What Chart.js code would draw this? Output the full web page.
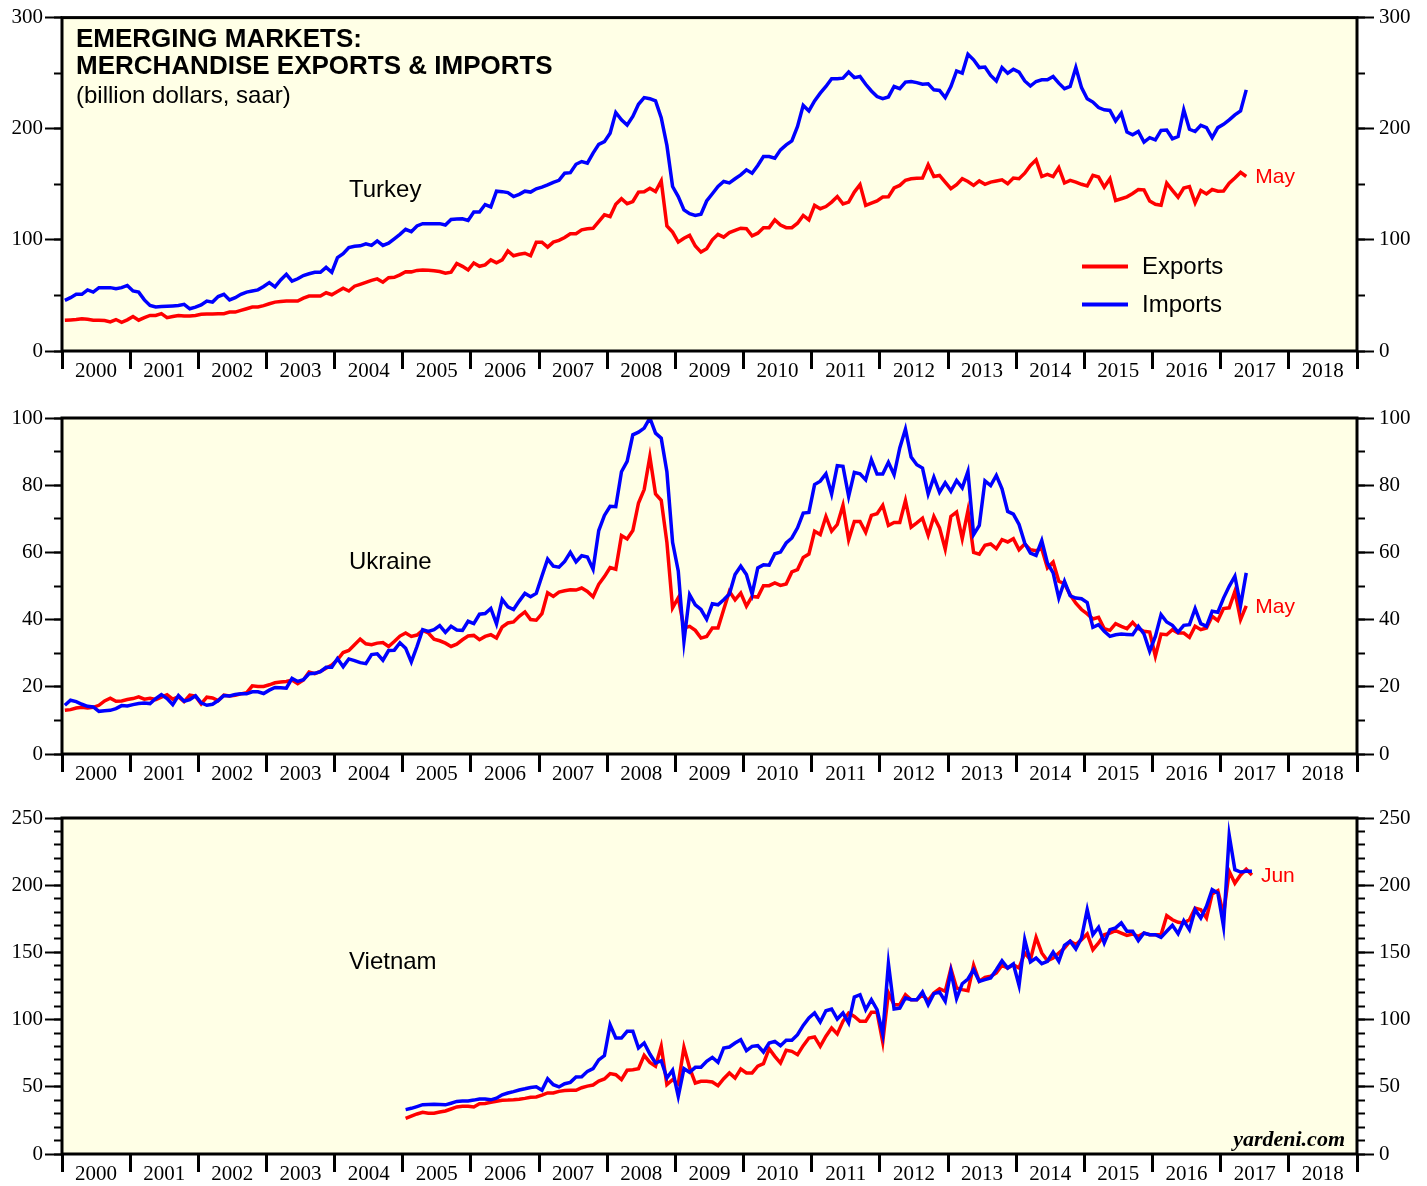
<!DOCTYPE html>
<html lang="en">
<head>
<meta charset="UTF-8">
<title>Emerging Markets: Merchandise Exports &amp; Imports</title>
<script src="https://cdn.jsdelivr.net/npm/chart.js"></script>
<style>
  body { margin: 0; background: #fff; }
  .panel { position: absolute; left: 0; width: 1427px; }
</style>
</head>
<body>
<div class="panel" style="top:0;height:395px"><canvas id="turkey"></canvas></div>
<div class="panel" style="top:400px;height:395px"><canvas id="ukraine"></canvas></div>
<div class="panel" style="top:800px;height:386px"><canvas id="vietnam"></canvas></div>
<script>
// monthly data, billion dollars saar
const yearLabels = ['2000', '2001', '2002', '2003', '2004', '2005', '2006', '2007', '2008', '2009',
  '2010', '2011', '2012', '2013', '2014', '2015', '2016', '2017', '2018'];

// Turkey, Jan 2000 - May 2017
const turkeyExports = [
  27.7, 28, 28.3, 29, 28.5, 27.7, 27.7, 27.5, 26.2, 28.3, 25.8, 28,
  31, 27.7, 30, 32, 32, 33.6, 30, 31, 32, 31.5, 31.5, 32,
  33, 33.3, 33.4, 33.5, 33.6, 35, 35, 36.5, 38, 39.6, 39.6, 40.8,
  42.5, 44, 44.5, 44.9, 44.9, 44.9, 47.5, 49.4, 49.4, 49.5, 52.4, 50.6,
  53.5, 56.5, 54, 58.3, 60, 61.8, 63.5, 64.9, 61.9, 66, 66.3, 68.5,
  71.4, 71.2, 72.5, 72.9, 72.6, 72.3, 71.5, 70, 71, 78.8, 76.2, 72.9,
  79.2, 76.2, 77.5, 82, 79.3, 82, 90, 85.7, 87, 88, 85.7, 97.9,
  97.9, 93.5, 98, 99.5, 102.1, 105.5, 105.5, 109, 110, 110.4, 116.5, 122.5,
  121, 132, 137, 132.5, 134.5, 143, 143.3, 146.5, 143.5, 153, 112.5, 107,
  98, 101.5, 104, 94.5, 89, 92, 100, 105, 102.5, 106.5, 108.5, 110.5,
  110, 103.6, 106, 111, 111, 118, 113.4, 111, 111, 115, 122, 118,
  131, 128, 130, 134, 139, 132.4, 134, 143, 149.7, 131, 133, 135,
  138.5, 138.7, 146.7, 149, 153.6, 155, 155.4, 155.6, 167.6, 157, 158, 152,
  146, 149.7, 155, 152.5, 149, 153, 150, 152, 153, 154, 150.5, 155.6,
  155, 160, 167, 172, 157, 159, 157, 165, 151.2, 153.6, 152, 150,
  148.5, 158, 156.5, 147.5, 155, 135.4, 137, 138.7, 141.7, 145.3, 145, 135,
  132, 131.2, 151, 144.6, 138.4, 146.7, 148, 133.3, 144.4, 141.3, 145.3, 143.8,
  144, 151, 155.6, 160.7, 157
];
const turkeyImports = [
  45.5, 48, 51, 51, 55, 53, 57, 57, 57, 56, 57, 59,
  54, 53, 46, 41, 39.6, 40, 40.3, 40.6, 41, 42, 38, 39.5,
  41.5, 45, 44, 49, 51, 46, 48, 51, 53, 54, 55, 58,
  61.5, 57.7, 64, 69, 62.8, 65, 67.9, 69.5, 70.8, 70.8, 75.3, 70.8,
  84, 87.5, 93, 94.3, 94.6, 96.5, 95, 99, 95, 97, 101, 105,
  109.5, 107.4, 112.5, 114.6, 114.6, 114.6, 114.6, 113.4, 118.4, 118.8, 119, 117.5,
  125, 125, 131.8, 129.7, 143.8, 143.4, 142.5, 139, 141, 143.8, 143, 146,
  147.5, 149.5, 151.8, 153.6, 160, 160.5, 168, 170.5, 169, 178, 186, 188.4,
  196, 214.6, 208, 203.3, 211, 222, 228, 227, 225, 210, 185, 148,
  139, 127, 123.5, 122, 123, 135, 141.5, 148, 152.5, 151.3, 155, 158.5,
  163, 160, 167, 175, 175, 173.5, 181, 185.5, 189, 202, 221, 216,
  225, 232, 238, 245, 245, 245.5, 251, 246, 247, 240, 234, 229,
  227, 228.6, 238, 236, 242, 242.5, 241.5, 240, 240.5, 235, 234.5, 228,
  238, 252, 250, 267, 262, 255, 255.5, 248, 243, 255, 250, 253.5,
  251, 243, 238.4, 242.5, 244, 244, 247, 241, 236, 238, 255, 237,
  227, 224, 219, 217, 216.5, 207, 214, 197, 194.6, 197.5, 188, 192,
  190, 198.5, 198.8, 191, 193, 217, 199.5, 197.5, 203, 201, 192, 201,
  204, 208, 212.5, 216, 235
];

// Ukraine, Jan 2000 - May 2017
const ukraineExports = [
  13, 13.2, 13.7, 13.9, 13.7, 13.9, 14.5, 15.8, 16.6, 15.7, 15.8, 16.2,
  16.5, 17, 16.3, 16.6, 16.2, 16.9, 17.6, 16.3, 17, 15.6, 17.5, 17.2,
  14.9, 16.9, 16.7, 15.9, 17.5, 17.3, 17.5, 17.9, 18.2, 20.3, 20.1, 20.1,
  20.6, 21.2, 21.4, 21.6, 22, 20.9, 22, 24.4, 23.9, 24.6, 25.5, 26.5,
  28, 30.2, 30.8, 32.5, 34.2, 32.8, 32.5, 33, 33.2, 32, 33.5, 35.1,
  36, 35, 35.4, 36.8, 36, 34.2, 33.7, 33, 32, 32.7, 34, 35.1,
  35.3, 34, 35, 35.5, 34.5, 37.8, 39, 39.3, 41, 42.3, 40, 39.8,
  41.8, 48, 46.9, 48.2, 48.6, 48.9, 48.8, 49.4, 48.4, 46.8, 50.5, 52.8,
  55.5, 55, 65, 64, 66.5, 74.7, 78.7, 88.5, 77.4, 75.5, 63, 43.5,
  46.5, 37.5, 38, 36.8, 34.5, 35, 37.5, 37.5, 43, 48.4, 45.9, 47.9,
  44, 46.9, 46.7, 50.1, 50.1, 50.9, 50.2, 50.6, 54.2, 54.9, 58.5, 59.5,
  66.3, 65.3, 70.7, 66.3, 68.3, 74, 63.8, 69.2, 69.2, 66, 71, 71.5,
  74, 68, 68.9, 68.9, 75.4, 67.5, 68.8, 70.2, 65.1, 70.7, 67.3, 61,
  70.7, 72, 64.1, 72.4, 60, 59.5, 62.1, 62.5, 61.1, 63.8, 63.1, 64.1,
  60.8, 62.5, 60.8, 60.5, 61.1, 55.4, 57.1, 51.4, 50.7, 47.4, 44.9, 43,
  41.7, 40.2, 40.7, 37.3, 36.8, 38.8, 38, 37.3, 39.2, 37.3, 36.5, 36.3,
  29.1, 35.7, 35.5, 37, 36, 36, 34.7, 38, 37, 37.5, 41, 39.7,
  43.3, 43.5, 48.4, 40, 44.1
];
const ukraineImports = [
  14.5, 16, 15.6, 14.8, 14.2, 14, 12.7, 12.9, 13, 13.5, 14.4, 14.3,
  14.7, 15, 15.2, 15, 16.5, 17.7, 16.5, 14.7, 17.4, 15.7, 16.2, 17.3,
  15.2, 14.5, 14.8, 15.9, 17.4, 17.3, 17.7, 17.9, 17.9, 18.5, 18.5, 18,
  19, 19.8, 19.7, 19.6, 22.5, 21.6, 22.1, 23.9, 24, 24.5, 25.8, 25.8,
  28.4, 26, 28.3, 27.8, 27.2, 26.9, 29.6, 29.8, 27.9, 30.8, 30.9, 33.1,
  31.5, 27.4, 32, 37, 36.5, 37, 38.2, 36.2, 38, 36.9, 36.8, 39.5,
  38.8, 41.6, 41.8, 43.3, 38.7, 46, 43.8, 43, 45.5, 47.8, 46.8, 47.8,
  53, 58, 55.9, 55.6, 57.3, 60, 57.2, 59, 58.6, 55, 66.5, 71,
  73.7, 73.6, 84, 87.1, 95, 95.8, 97, 100, 95.5, 94, 84, 63,
  54.5, 33.5, 47.4, 44.4, 43, 40.1, 44.7, 44.4, 45.9, 47.6, 53.4, 55.9,
  53.4, 47.6, 55.4, 56.3, 56.2, 59.6, 60.1, 62.8, 64.3, 67.3, 71.7, 71.9,
  80.2, 81.2, 83.4, 77.4, 85.8, 85.6, 76.7, 83.8, 83.4, 81.6, 87.6, 83.3,
  83.3, 86.8, 83.1, 91.1, 96.7, 88.4, 86.1, 85.1, 77.4, 82.4, 77.9, 80.7,
  78.2, 81.4, 79.2, 84.1, 65.3, 68, 81.3, 79.9, 82.9, 78.9, 72.2, 71.4,
  68.3, 62.8, 59.8, 59.1, 63.5, 56.8, 53.9, 46.4, 51.4, 47.1, 46.4, 46.2,
  45.1, 37.7, 38.5, 36.5, 35, 35.5, 35.7, 35.6, 35.5, 38, 35.7, 30.6,
  35, 41.5, 39.3, 38.3, 36.3, 38.3, 38.5, 43.3, 38.8, 38, 42.5, 42.2,
  46.4, 49.9, 52.9, 44.2, 53.9
];

// Vietnam, Jan 2005 - Jun 2017
const vietnamExports = [
  26.5, 28.2, 29.8, 31, 30.4, 30.4, 31.2, 32, 33.5, 35, 35.5, 35.5,
  35, 37.4, 37.6, 38.5, 39.3, 40, 40.1, 40.3, 40.8, 41.4, 42.2, 42.4,
  43.8, 45.4, 45.4, 46.6, 47.2, 47.4, 47.4, 49.3, 50.5, 51.3, 54.2, 55.8,
  59.8, 59, 55.3, 62.3, 62.7, 63.5, 73.4, 68.2, 65.3, 80.1, 51.6, 55.3,
  52, 79.4, 64, 52.8, 54.1, 54.1, 53.6, 50.8, 56, 60.3, 56.5, 63.2,
  60.3, 60.3, 65.3, 67.2, 78.4, 72.7, 67.7, 77.2, 76.4, 73.9, 80.6, 86.3,
  87.1, 80.1, 87.6, 93.8, 89.3, 98.7, 104.9, 102.4, 98.7, 98.7, 105.4, 105.4,
  83.3, 120, 111.1, 111.1, 118.5, 114.8, 114.8, 118.5, 114.1, 119.8, 123, 121,
  137.9, 123.5, 122.3, 121.5, 140.4, 128.5, 131.4, 132.2, 134.7, 140.4, 138.4, 140.8,
  138.4, 149.6, 144.6, 161.2, 149.6, 143.8, 145.8, 149.6, 153.3, 158.3, 155.8, 159.5,
  163.7, 152, 157, 163.2, 164.4, 166.2, 164.4, 162.7, 163.7, 162, 164.4, 163.2,
  163.2, 163.2, 177.3, 174.3, 172.4, 171.9, 174.3, 183, 181.8, 175.6, 193.5, 195.9,
  178.1, 210.3, 201.5, 207.6, 211.8, 207.6
];
const vietnamImports = [
  33, 34, 35.3, 36.7, 36.9, 37, 36.8, 36.6, 37.8, 39.1, 39.4, 39.5,
  40.1, 40.9, 40.9, 40.3, 41.5, 44, 45.4, 46.4, 47.6, 48.5, 49.5, 50,
  47.4, 56, 51.6, 49.9, 52.3, 53.3, 57.3, 57.5, 61.5, 63.5, 70, 73.2,
  96.2, 86.3, 86.3, 91.3, 91.3, 78.9, 82.6, 74.4, 67.7, 69.4, 56.5, 62.3,
  42.9, 63.5, 60.8, 64.5, 64.5, 69, 71.9, 68.2, 78.9, 79.6, 82.6, 85,
  76.9, 80.1, 80.6, 75.9, 82.6, 83.8, 80.6, 84.6, 84.6, 88.8, 95.7, 101.2,
  104.9, 98.2, 106.6, 107.9, 100.4, 104.9, 97.5, 116.8, 118.5, 107.4, 114.8, 107.4,
  89.3, 141.6, 107.9, 108.6, 116.1, 114.8, 114.8, 120.5, 111.1, 119.3, 120.5, 113.6,
  135.9, 115.6, 126.7, 130.2, 137.1, 128.5, 129.7, 131, 137.1, 143.8, 138.4, 141.4,
  125.5, 159.5, 142.9, 145.8, 141.6, 143.4, 150.3, 143.4, 155.3, 158.3, 152.5, 160.7,
  181.8, 163.2, 168.7, 157, 166.9, 168.2, 171.9, 165.7, 165.7, 158.7, 164.4, 163.2,
  163.2, 161.2, 165.7, 170.2, 163.9, 173.6, 166.9, 181.8, 175.6, 184.3, 196.7, 194.2,
  169.4, 237.1, 211.5, 209.8, 210.3, 210.3
];

const RED = '#ff0000';
const BLUE = '#0000ff';
const PLOT_BG = '#ffffe6';
const SERIF = "'Liberation Serif', 'Times New Roman', serif";
const SANS = "'Liberation Sans', Arial, Helvetica, sans-serif";

function toPoints(values, startYear) {
  return values.map((v, i) => ({ x: startYear + (i + 0.5) / 12, y: v }));
}

const framePlugin = {
  id: 'frame',
  beforeDatasetsDraw(chart) {
    const { ctx, chartArea: a } = chart;
    ctx.save();
    ctx.fillStyle = PLOT_BG;
    ctx.fillRect(a.left, a.top, a.right - a.left, a.bottom - a.top);
    ctx.restore();
  },
  afterDatasetsDraw(chart) {
    const { ctx, chartArea: a } = chart;
    ctx.save();
    ctx.strokeStyle = '#000';
    ctx.lineWidth = 3;
    ctx.strokeRect(a.left, a.top, a.right - a.left, a.bottom - a.top);
    ctx.restore();
  }
};

function makePanel(id, cfg) {
  const labelsPlugin = {
    id: 'labels_' + id,
    afterDraw(chart) {
      const { ctx, chartArea: a, scales } = chart;
      ctx.save();
      ctx.fillStyle = '#000';
      ctx.textBaseline = 'alphabetic';
      if (cfg.title) {
        ctx.font = 'bold 26px ' + SANS;
        ctx.fillText('EMERGING MARKETS:', a.left + 14, a.top + 29);
        ctx.fillText('MERCHANDISE EXPORTS & IMPORTS', a.left + 14, a.top + 56);
        ctx.font = '24px ' + SANS;
        ctx.fillText('(billion dollars, saar)', a.left + 14, a.top + 85);
      }
      ctx.font = '24px ' + SANS;
      ctx.textBaseline = 'middle';
      ctx.fillText(cfg.name, 349, a.top + cfg.nameOffset);

      // last-month tag next to the exports line
      const exp = chart.data.datasets[1].data;
      const last = exp[exp.length - 1];
      ctx.fillStyle = RED;
      ctx.font = '21px ' + SANS;
      ctx.fillText(cfg.lastMonth, scales.x.getPixelForValue(last.x) + 9, scales.y.getPixelForValue(last.y) + 1);

      if (cfg.legend) {
        const items = [chart.data.datasets[1], chart.data.datasets[0]];
        items.forEach((ds, k) => {
          const y = a.top + 249 + k * 38;
          ctx.strokeStyle = ds.borderColor;
          ctx.lineWidth = 4;
          ctx.beginPath();
          ctx.moveTo(1082, y);
          ctx.lineTo(1128, y);
          ctx.stroke();
          ctx.fillStyle = '#000';
          ctx.font = '24px ' + SANS;
          ctx.fillText(ds.label, 1142, y + 1);
        });
      }
      if (cfg.credit) {
        ctx.fillStyle = '#000';
        ctx.font = 'italic bold 22px ' + SERIF;
        ctx.textAlign = 'right';
        ctx.textBaseline = 'alphabetic';
        ctx.fillText('yardeni.com', a.right - 12, a.bottom - 8);
      }
      ctx.restore();
    }
  };

  const tickFont = { family: SERIF, size: 21 };
  const yMajor = {
    min: 0, max: cfg.max,
    ticks: { stepSize: cfg.major, color: '#000', font: tickFont, callback: v => String(v) },
    grid: { drawOnChartArea: false, tickLength: 17, tickWidth: 2, tickColor: '#000' },
    border: { display: false }
  };
  const yMinor = {
    min: 0, max: cfg.max, weight: -1,
    afterFit: s => { s.width = 0; },
    ticks: { display: false, stepSize: cfg.minor },
    grid: { drawOnChartArea: false, tickLength: 8, tickWidth: 2, tickColor: '#000' },
    border: { display: false }
  };

  new Chart(document.getElementById(id), {
    type: 'line',
    data: {
      datasets: [
        { label: 'Imports', data: toPoints(cfg.imports, cfg.start), borderColor: BLUE,
          borderWidth: 3.5, pointRadius: 0, tension: 0, yAxisID: 'y' },
        { label: 'Exports', data: toPoints(cfg.exports, cfg.start), borderColor: RED,
          borderWidth: 3.5, pointRadius: 0, tension: 0, yAxisID: 'y' }
      ]
    },
    options: {
      responsive: true,
      maintainAspectRatio: false,
      animation: false,
      layout: { padding: { top: cfg.padTop, left: 0, right: 0, bottom: 0 } },
      plugins: { legend: { display: false }, tooltip: { enabled: false } },
      scales: {
        x: {
          type: 'linear', min: 2000, max: 2019,
          afterFit: s => { s.height = cfg.axisHeight; },
          ticks: {
            stepSize: 1, autoSkip: false, maxRotation: 0, labelOffset: 34, padding: -10,
            color: '#000', font: tickFont,
            callback: v => yearLabels[v - 2000] || ''
          },
          grid: { drawOnChartArea: false, tickLength: 18, tickWidth: 3, tickColor: '#000' },
          border: { display: false }
        },
        y: Object.assign({ position: 'left', afterFit: s => { s.width = 62; } }, yMajor,
          { ticks: Object.assign({}, yMajor.ticks, { padding: 2 }) }),
        yMinorLeft: Object.assign({ position: 'left' }, yMinor),
        yRight: Object.assign({ position: 'right', afterFit: s => { s.width = 70; } }, yMajor,
          { ticks: Object.assign({}, yMajor.ticks, { padding: 5 }) }),
        yMinorRight: Object.assign({ position: 'right' }, yMinor)
      }
    },
    plugins: [framePlugin, labelsPlugin]
  });
}

makePanel('turkey', {
  name: 'Turkey', exports: turkeyExports, imports: turkeyImports, start: 2000,
  max: 300, major: 100, minor: 50, padTop: 15, axisHeight: 44, nameOffset: 173,
  lastMonth: 'May', title: true, legend: true
});
makePanel('ukraine', {
  name: 'Ukraine', exports: ukraineExports, imports: ukraineImports, start: 2000,
  max: 100, major: 20, minor: 10, padTop: 18, axisHeight: 41, nameOffset: 144,
  lastMonth: 'May'
});
makePanel('vietnam', {
  name: 'Vietnam', exports: vietnamExports, imports: vietnamImports, start: 2005,
  max: 250, major: 50, minor: 10, padTop: 18, axisHeight: 32, nameOffset: 144,
  lastMonth: 'Jun', credit: true
});
</script>
</body>
</html>
